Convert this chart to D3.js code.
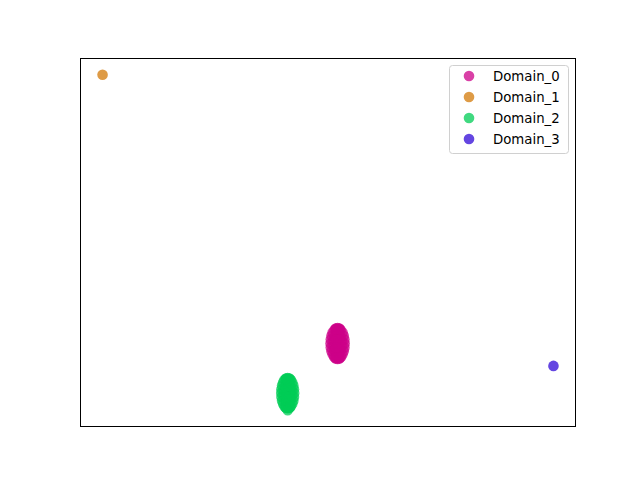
<!DOCTYPE html>
<html><head><meta charset="utf-8">
<script src="https://cdn.jsdelivr.net/npm/d3@7"></script>
<style>body{margin:0;background:#fff}</style>
</head><body>
<svg id="c" width="640" height="480"></svg>
<script>
const categories = ["Domain_0","Domain_1","Domain_2","Domain_3"];
const colors = ["#cc0088","#d37a08","#00cc55","#3008d7"];
const domain0X = [2.95,2.78,2.25,1.70,1.15,0.62,0.45,0.62,1.08,1.70,2.33,2.78,
  2.91,2.58,2.02,1.38,0.82,0.49,0.49,0.82,1.38,2.02,2.58,2.91,
  2.42,2.23,1.89,1.51,1.17,0.98,0.98,1.17,1.51,1.89,2.23,2.42,
  1.70,1.95,1.45,1.95,1.45,1.40,2.00,1.35,2.05];
const domain0Y = [-17.9,-16.53,-15.52,-15.15,-15.52,-16.53,-17.9,-19.28,-20.28,-20.65,-20.28,-19.28,
  -17.19,-15.96,-15.24,-15.24,-15.96,-17.19,-18.61,-19.84,-20.56,-20.56,-19.84,-18.61,
  -17.47,-16.73,-16.31,-16.31,-16.73,-17.47,-18.33,-19.07,-19.49,-19.49,-19.07,-18.33,
  -17.9,-17.2,-17.2,-18.6,-18.6,-15.3,-15.3,-20.5,-20.5];
const domain1X = [-40];
const domain1Y = [30];
const domain2X = [-6.00,-6.15,-6.58,-7.15,-7.73,-8.15,-8.30,-8.15,-7.73,-7.15,-6.58,-6.15,
  -6.04,-6.34,-6.85,-7.45,-7.96,-8.26,-8.26,-7.96,-7.45,-6.85,-6.34,-6.04,
  -6.48,-6.66,-6.97,-7.33,-7.64,-7.82,-7.82,-7.64,-7.33,-6.97,-6.66,-6.48,
  -7.15,-6.90,-7.40,-6.90,-7.40,-7.45,-6.85,-7.50,-6.80,-7.15];
const domain2Y = [-26.75,-25.40,-24.41,-24.05,-24.41,-25.40,-26.75,-28.10,-29.09,-29.45,-29.09,-28.10,
  -26.05,-24.84,-24.14,-24.14,-24.84,-26.05,-27.45,-28.66,-29.36,-29.36,-28.66,-27.45,
  -26.33,-25.60,-25.19,-25.19,-25.60,-26.33,-27.17,-27.90,-28.31,-28.31,-27.90,-27.17,
  -26.75,-26.10,-26.10,-27.40,-27.40,-24.20,-24.20,-29.30,-29.30,-29.80];
const domain3X = [40];
const domain3Y = [-21.9];

const series = [
  {name:categories[0], xs:domain0X, ys:domain0Y, color:colors[0]},
  {name:categories[1], xs:domain1X, ys:domain1Y, color:colors[1]},
  {name:categories[2], xs:domain2X, ys:domain2Y, color:colors[2]},
  {name:categories[3], xs:domain3X, ys:domain3Y, color:colors[3]}
];

const L=80, R=576, T=58, B=427;
const svg = d3.select("#c");
const allX = series.flatMap(s=>s.xs), allY = series.flatMap(s=>s.ys);
const [x0,x1] = d3.extent(allX), [y0,y1] = d3.extent(allY);
const px=(x1-x0)*0.05, py=(y1-y0)*0.05;
const x = d3.scaleLinear().domain([x0-px,x1+px]).range([L,R]);
const y = d3.scaleLinear().domain([y0-py,y1+py]).range([B,T]);

series.forEach(s=>{
  svg.append("g").selectAll("circle").data(s.xs.map((v,i)=>[v,s.ys[i]])).join("circle")
    .attr("cx",d=>x(d[0])).attr("cy",d=>y(d[1])).attr("r",5.3)
    .attr("fill",s.color).attr("fill-opacity",0.75);
});

svg.append("rect").attr("x",L+0.5).attr("y",T+0.5).attr("width",R-L-1).attr("height",B-T-1)
  .attr("fill","none").attr("stroke","#000").attr("stroke-width",1);

const lg = svg.append("g");
lg.append("rect").attr("x",449.5).attr("y",65.5).attr("width",119).attr("height",88).attr("rx",3)
  .attr("fill","#fff").attr("fill-opacity",0.8).attr("stroke","#d0d0d0").attr("stroke-width",1);
series.forEach((s,i)=>{
  const yy = 76 + i*21;
  lg.append("circle").attr("cx",469).attr("cy",yy).attr("r",5.3).attr("fill",s.color).attr("fill-opacity",0.75);
  lg.append("text").attr("x",493).attr("y",yy+5).attr("font-family","DejaVu Sans").attr("font-size","13.3px")
    .attr("fill","#000").text(s.name);
});
</script>
</body></html>
